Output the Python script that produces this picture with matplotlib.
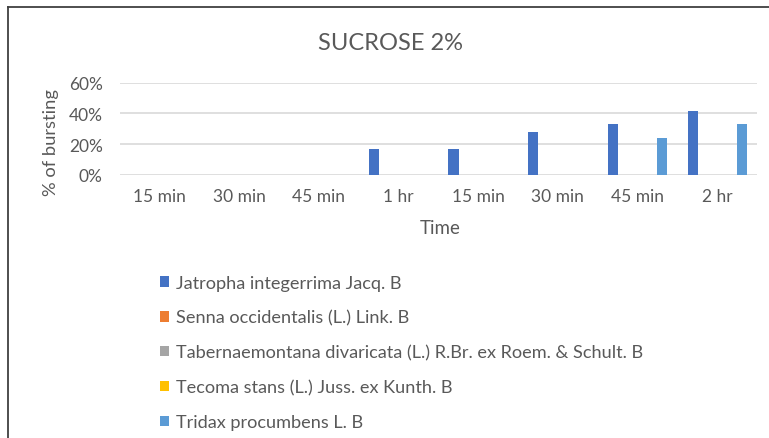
import matplotlib
matplotlib.use("Agg")
import matplotlib.pyplot as plt
from matplotlib.lines import Line2D
import numpy as np

# Time points and bursting percentages per species
categories = ["15 min", "30 min", "45 min", "1 hr", "15 min", "30 min", "45 min", "2 hr"]
series_names = [
    "Jatropha integerrima Jacq. B",
    "Senna occidentalis (L.) Link. B",
    "Tabernaemontana divaricata (L.) R.Br. ex Roem. & Schult. B",
    "Tecoma stans (L.) Juss. ex Kunth. B",
    "Tridax procumbens L. B",
]
jatropha = [0, 0, 0, 0.167, 0.167, 0.28, 0.333, 0.417]
senna = [0, 0, 0, 0, 0, 0, 0, 0]
tabernaemontana = [0, 0, 0, 0, 0, 0, 0, 0]
tecoma = [0, 0, 0, 0, 0, 0, 0, 0]
tridax = [0, 0, 0, 0, 0, 0, 0.24, 0.333]
colors = ["#4472C4", "#ED7D31", "#A5A5A5", "#FFC000", "#5B9BD5"]

plt.rcParams["font.family"] = ["Lato", "DejaVu Sans"]
TXT = "#595959"
W, H = 769, 439
fig = plt.figure(figsize=(W / 100, H / 100), dpi=100)

def fx(px):
    return px / W

def fy(py):
    return 1 - py / H

left, right, top, bottom = 119.5, 757, 83.5, 176
ax = fig.add_axes([fx(left), fy(bottom), fx(right - left), (bottom - top) / H])

x = np.arange(len(categories))
step = 0.154
bw = 0.128
all_series = [jatropha, senna, tabernaemontana, tecoma, tridax]
handles = []
for i, (vals, name, c) in enumerate(zip(all_series, series_names, colors)):
    b = ax.bar(x + (i - 2) * step, vals, width=bw, color=c, label=name, zorder=3)
    handles.append(b)

ax.set_xlim(-0.5, len(categories) - 0.5)
ax.set_ylim(0, 0.6)
ax.set_yticks([0, 0.2, 0.4, 0.6])
ax.set_yticklabels(["0%", "20%", "40%", "60%"])
ax.set_xticks(x)
ax.set_xticklabels(categories)
ax.grid(axis="y", color="#D9D9D9", linewidth=1.2, zorder=0)
for s in ax.spines.values():
    s.set_visible(False)
ax.tick_params(axis="both", length=0, colors=TXT, labelsize=12.5)
ax.tick_params(axis="x", pad=9)
ax.tick_params(axis="y", pad=12)
ax.set_facecolor("none")

fig.text(fx(390), fy(44), "SUCROSE 2%", ha="center", va="center", fontsize=17, color=TXT)
fig.text(fx(51), fy(143), "% of bursting", ha="center", va="center", rotation=90,
         fontsize=13.2, color=TXT)
fig.text(fx(440), fy(229), "Time", ha="center", va="center", fontsize=13.5, color=TXT)

fig.legend(handles=handles, loc="upper left", bbox_to_anchor=(fx(160), fy(276)),
           frameon=False, fontsize=13.1, labelcolor=TXT, handlelength=0.5,
           handleheight=0.5, handletextpad=0.4, labelspacing=1.03,
           borderpad=0, borderaxespad=0)

# chart frame (top and left edges)
fig.add_artist(Line2D([fx(8), fx(769)], [fy(8), fy(8)], color="#404040", linewidth=1.3))
fig.add_artist(Line2D([fx(8), fx(8)], [fy(8), fy(439)], color="#404040", linewidth=1.3))

fig.savefig("out.png", dpi=100, facecolor="white")
